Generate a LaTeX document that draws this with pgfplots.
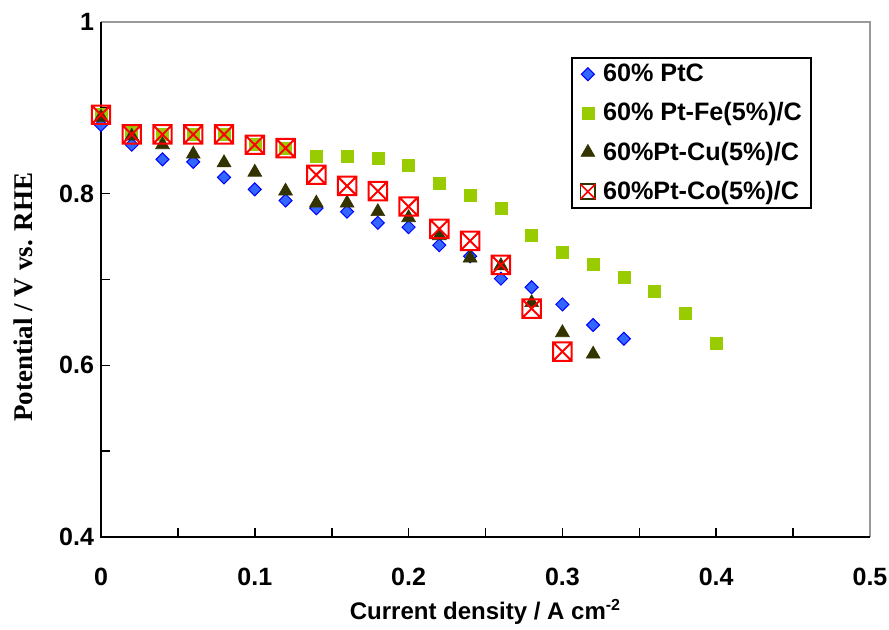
\documentclass[border=0pt]{standalone}
\usepackage{fontspec}
\setmainfont{Liberation Sans}
\newfontfamily\serifb{Liberation Serif}
\usepackage{pgfplots}
\pgfplotsset{compat=1.18}
\definecolor{ptfill}{HTML}{3366FF}
\definecolor{ptdraw}{HTML}{0000FF}
\definecolor{fegreen}{HTML}{99CC00}
\definecolor{cuolive}{HTML}{333300}
\definecolor{cored}{HTML}{FF0000}
\pgfdeclareplotmark{boxx}{%
  \pgfpathrectangle{\pgfpoint{-\pgfplotmarksize}{-\pgfplotmarksize}}{\pgfpoint{2\pgfplotmarksize}{2\pgfplotmarksize}}%
  \pgfpathmoveto{\pgfpoint{-\pgfplotmarksize}{-\pgfplotmarksize}}%
  \pgfpathlineto{\pgfpoint{\pgfplotmarksize}{\pgfplotmarksize}}%
  \pgfpathmoveto{\pgfpoint{-\pgfplotmarksize}{\pgfplotmarksize}}%
  \pgfpathlineto{\pgfpoint{\pgfplotmarksize}{-\pgfplotmarksize}}%
  \pgfusepathqstroke}

\pgfplotstableread{
x y
0 0.880
0.02 0.857
0.04 0.840
0.06 0.837
0.08 0.819
0.10 0.805
0.12 0.792
0.14 0.783
0.16 0.779
0.18 0.766
0.20 0.761
0.22 0.740
0.24 0.727
0.26 0.701
0.28 0.691
0.30 0.671
0.32 0.647
0.34 0.631
}\ptc
\pgfplotstableread{
x y
0 0.892
0.02 0.871
0.04 0.869
0.06 0.869
0.08 0.869
0.10 0.857
0.12 0.853
0.14 0.843
0.16 0.843
0.18 0.841
0.20 0.833
0.22 0.812
0.24 0.798
0.26 0.783
0.28 0.751
0.30 0.732
0.32 0.718
0.34 0.702
0.36 0.686
0.38 0.661
0.40 0.626
}\fe
\pgfplotstableread{
x y
0 0.889
0.02 0.867
0.04 0.857
0.06 0.846
0.08 0.836
0.10 0.825
0.12 0.803
0.14 0.789
0.16 0.789
0.18 0.779
0.20 0.772
0.22 0.751
0.24 0.725
0.26 0.716
0.28 0.673
0.30 0.638
0.32 0.613
}\cu
\pgfplotstableread{
x y
0 0.892
0.02 0.869
0.04 0.869
0.06 0.869
0.08 0.869
0.10 0.857
0.12 0.853
0.14 0.822
0.16 0.809
0.18 0.803
0.20 0.785
0.22 0.759
0.24 0.745
0.26 0.717
0.28 0.666
0.30 0.616
}\co

\begin{document}
\begin{tikzpicture}
\path[use as bounding box] (-50.5pt,-46.5pt) rectangle (394pt,268.5pt);
\begin{axis}[
  at={(0,0)}, anchor=south west,
  width=384.5pt, height=257.5pt, scale only axis,
  xmin=0, xmax=0.5, ymin=0.4, ymax=1,
  clip=false,
  xtick={0,0.1,0.2,0.3,0.4,0.5},
  xticklabels={0,0.1,0.2,0.3,0.4,0.5},
  ytick={0.4,0.6,0.8,1},
  yticklabels={0.4,0.6,0.8,1},
  minor x tick num=1, minor y tick num=1,
  xtick pos=bottom, ytick pos=left,
  tick align=inside,
  major tick length=4.5pt, minor tick length=4.5pt,
  every tick/.style={black, line width=0.8pt},
  axis line style={draw=none},
  ticklabel style={font=\fontsize{12.5}{14}\selectfont\bfseries},
  xticklabel style={yshift=-12pt},
  xlabel={Current density / A cm\textsuperscript{-2}},
  xlabel style={font=\fontsize{12}{14}\selectfont\bfseries, at={(axis description cs:0.5,-0.1456)}, anchor=center},
  ylabel={Potential / V vs. RHE},
  ylabel style={font=\fontsize{13.5}{16}\selectfont\serifb\bfseries, at={(axis description cs:-0.1014,0.466)}, anchor=center},
  legend style={at={(rel axis cs:0.611,0.932)}, anchor=north west, draw=black, line width=0.9pt,
     font=\fontsize{12.6}{14}\selectfont\bfseries, row sep=5pt, inner xsep=2.5pt, inner ysep=1pt,
     /tikz/every even column/.append style={column sep=0pt}},
  legend cell align=left,
  legend image code/.code={\path (0cm,0cm) (0.36cm,0cm); \draw[#1, line width=0.5pt] plot coordinates {(0.18cm,0cm)};},
]
\addplot[only marks, mark=square*, mark size=2.3pt, mark options={rotate=45, fill=ptfill, draw=ptdraw, line width=0.5pt}] table {\ptc};
\addlegendentry{60\% PtC}
\addplot[only marks, mark=square*, mark size=3pt, mark options={fill=fegreen, draw=fegreen, line width=0.3pt}] table {\fe};
\addlegendentry{60\% Pt-Fe(5\%)/C}
\addplot[only marks, mark=triangle*, mark size=4pt, mark options={fill=cuolive, draw=cuolive, line width=0.3pt}] table {\cu};
\addlegendentry{60\%Pt-Cu(5\%)/C}
\addplot[only marks, mark=boxx, mark size=4.6pt, mark options={draw=cored, line width=1pt},
  legend image code/.code={\path (0cm,0cm) (0.36cm,0cm);
    \draw[line width=0.8pt, draw=cuolive] (0.05cm,-0.13cm) rectangle (0.31cm,0.13cm);
    \draw[line width=0.8pt, draw=cored] (0.05cm,-0.13cm) -- (0.31cm,0.13cm) (0.05cm,0.13cm) -- (0.31cm,-0.13cm);}] table {\co};
\addlegendentry{60\%Pt-Co(5\%)/C}
\draw[gray!80, line width=0.6pt] (rel axis cs:0,1) -- (rel axis cs:1,1) -- (rel axis cs:1,0);
\draw[black, line width=1pt] (rel axis cs:0,1) -- (rel axis cs:0,0) -- (rel axis cs:1,0);
\end{axis}
\end{tikzpicture}
\end{document}
